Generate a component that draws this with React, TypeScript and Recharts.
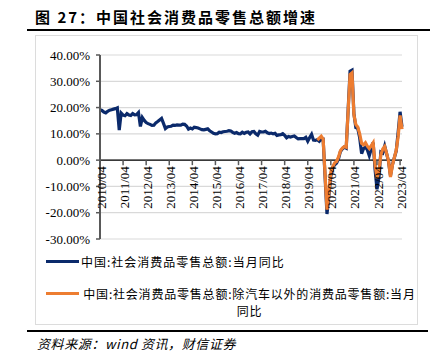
import React from 'react';
import { LineChart, Line, XAxis, YAxis, CartesianGrid, ReferenceLine } from 'recharts';

// 社会消费品零售总额 当月同比 (%)，2010/04 起
const total2010 = [19.2, 18.9, 18.3, 18.0, 18.6, 19.0, 19.2, 19.4, 19.6];
const total2011 = [19.9, 11.4, 17.9, 17.1, 16.9, 17.7, 17.2, 17.0, 17.7, 17.2, 17.3, 18.1];
const total2012 = [12.8, 16.2, 15.1, 14.3, 13.9, 13.6, 13.2, 13.3, 14.2, 14.7, 15.3, 15.9];
const total2013 = [14.0, 12.0, 12.6, 12.8, 12.9, 13.3, 13.2, 13.4, 13.3, 13.3, 13.7, 13.6];
const total2014 = [13.0, 11.8, 12.2, 11.9, 12.5, 12.4, 12.2, 11.9, 11.6, 11.5, 11.7, 11.9];
const total2015 = [11.2, 10.7, 10.2, 10.0, 10.1, 10.6, 10.5, 10.8, 10.9, 11.0, 11.2, 11.1];
const total2016 = [10.6, 10.2, 10.5, 10.1, 10.0, 10.6, 10.2, 10.6, 10.7, 10.0, 10.8, 10.9];
const total2017 = [10.0, 9.5, 10.9, 10.7, 10.7, 11.0, 10.4, 10.1, 10.3, 10.0, 10.2, 9.4];
const total2018 = [9.6, 9.7, 10.1, 9.4, 8.5, 9.0, 8.8, 9.0, 9.2, 8.6, 8.1, 8.2];
const total2019 = [8.2, 8.2, 8.7, 7.2, 8.6, 9.8, 7.6, 7.5, 7.8, 7.2, 8.0, 8.0];
const total2020 = [null, -20.5, -13.5, -6.0, -2.8, -1.8, -1.1, 0.5, 3.3, 4.3, 5.0, 4.6];
const total2021 = [null, 33.8, 34.2, 17.7, 12.4, 12.1, 8.5, 2.5, 4.4, 4.9, 3.9, 1.7];
const total2022 = [null, 6.7, -3.5, -11.1, -6.7, 3.1, 2.7, 5.4, 2.5, -0.5, -5.9, -1.8];
const total2023 = [null, 3.5, 10.6, 18.4, 12.7];

// 除汽车以外的消费品零售额 当月同比 (%)，2019/09 起
const exAuto2019 = [7.6, 8.4, 9.1, 8.0];
const exAuto2020 = [null, -18.8, -12.5, -4.5, -2.5, -1.0, -0.5, 1.2, 3.6, 4.6, 5.2, 4.9];
const exAuto2021 = [null, 32.6, 33.2, 17.2, 13.5, 12.6, 10.0, 6.4, 5.8, 6.6, 5.3, 4.4];
const exAuto2022 = [null, 6.6, -1.8, -6.8, -4.4, 2.0, 4.2, 5.2, 2.6, -0.4, -6.4, -2.0];
const exAuto2023 = [null, 3.8, 9.0, 17.0, 11.8];

const yTicks = [-30, -20, -10, 0, 10, 20, 30, 40];
const Y_MIN = -30;
const Y_MAX = 40;

const SERIES_TOTAL = '中国:社会消费品零售总额:当月同比';
const SERIES_EX = '中国:社会消费品零售总额:除汽车以外的消费品零售额:当月同比';

const totalValues = [
  ...total2010, ...total2011, ...total2012, ...total2013, ...total2014, ...total2015, ...total2016,
  ...total2017, ...total2018, ...total2019, ...total2020, ...total2021, ...total2022, ...total2023,
];
const exValues = [...exAuto2019, ...exAuto2020, ...exAuto2021, ...exAuto2022, ...exAuto2023];

// 月份标签 2010/04 ... 2023/05
const months: string[] = [];
for (let y = 2010; y <= 2023; y++) {
  for (let m = 1; m <= 12; m++) {
    if (y === 2010 && m < 4) continue;
    if (y === 2023 && m > 5) continue;
    months.push(`${y}/${String(m).padStart(2, '0')}`);
  }
}
const exStart = months.indexOf('2019/09');

const data = months.map((date, i) => ({
  date,
  total: totalValues[i],
  exAuto: i >= exStart ? exValues[i - exStart] : null,
}));

const W = 442;
const H = 354;
const PLOT_TOP = 55;
const PLOT_H = 184;
const ZERO_Y = PLOT_TOP + (PLOT_H * Y_MAX) / (Y_MAX - Y_MIN);
const AXIS_FONT = '"Liberation Serif", "Times New Roman", serif';
const CJK_FONT = '"Noto Sans CJK SC", "Noto Sans", sans-serif';

// x 轴标签画在 0 线上，竖排
const XTick = ({ x, payload }: any) => (
  <g>
    <line x1={x} y1={ZERO_Y} x2={x} y2={ZERO_Y + 5} stroke="#595959" strokeWidth={1.5} />
    <text
      transform={`translate(${x + 1},${ZERO_Y + 6}) rotate(-90)`}
      textAnchor="end"
      dy="0.35em"
      fontFamily={AXIS_FONT}
      fontSize={13}
      fill="#000"
    >
      {payload.value}
    </text>
  </g>
);

const legendRow: React.CSSProperties = {
  position: 'absolute',
  left: 46,
  display: 'flex',
  alignItems: 'flex-start',
  fontFamily: CJK_FONT,
  fontSize: 12,
  letterSpacing: 1,
  color: '#000',
  lineHeight: '17px',
  whiteSpace: 'nowrap',
};

// 第二个图例文字分两行，与原图一致
const exLabelLines = [SERIES_EX.slice(0, -2), SERIES_EX.slice(-2)];

export default function App() {
  return (
    <div style={{ position: 'absolute', left: 0, top: 0, width: W, height: H, background: '#fff' }}>
      <div
        style={{
          position: 'absolute', left: 35, top: 7, fontFamily: CJK_FONT, fontWeight: 700,
          fontSize: 15, letterSpacing: 2, lineHeight: '20px', color: '#000', whiteSpace: 'nowrap',
        }}
      >
        图 27：中国社会消费品零售总额增速
      </div>
      <div style={{ position: 'absolute', left: 27, top: 29, width: 403, height: 2, background: '#000' }} />
      <div style={{ position: 'absolute', left: 35, top: 35, width: 383, height: 290, border: '1px solid #dcdcdc', boxSizing: 'border-box' }} />

      <div style={{ position: 'absolute', left: 0, top: 0 }}>
        <LineChart width={W} height={H} data={data} margin={{ top: PLOT_TOP, right: 40, left: 40, bottom: 95 }}>
          <CartesianGrid vertical={false} stroke="#d9d9d9" strokeWidth={1.2} />
          <XAxis
            dataKey="date"
            interval={11}
            height={20}
            axisLine={false}
            tickLine={false}
            tick={<XTick />}
          />
          <YAxis
            width={60}
            domain={[Y_MIN, Y_MAX]}
            ticks={yTicks}
            tickFormatter={(v: number) => `${v.toFixed(2)}%`}
            tick={{ fontFamily: AXIS_FONT, fontSize: 13, fill: '#000' }}
            tickSize={4}
            tickMargin={6}
            axisLine={{ stroke: '#595959', strokeWidth: 2 }}
            tickLine={{ stroke: '#595959', strokeWidth: 1.5 }}
          />
          <ReferenceLine y={0} stroke="#000" strokeWidth={1.3} />
          <Line type="linear" dataKey="total" name={SERIES_TOTAL} stroke="#0b2a6b" strokeWidth={3.2} dot={false} connectNulls isAnimationActive={false} />
          <Line type="linear" dataKey="exAuto" name={SERIES_EX} stroke="#ed7d31" strokeWidth={3.2} dot={false} connectNulls isAnimationActive={false} />
        </LineChart>
      </div>

      <div style={{ ...legendRow, top: 253 }}>
        <div style={{ width: 33, height: 3, background: '#0b2a6b', marginTop: 7, flex: 'none' }} />
        <div style={{ marginLeft: 2 }}>{SERIES_TOTAL}</div>
      </div>
      <div style={{ ...legendRow, top: 285, width: 372 }}>
        <div style={{ width: 33, height: 3, background: '#ed7d31', marginTop: 7, flex: 'none' }} />
        <div style={{ marginLeft: 2, textAlign: 'center', flex: 1, letterSpacing: 0.8 }}>
          {exLabelLines[0]}
          <br />
          {exLabelLines[1]}
        </div>
      </div>

      <div style={{ position: 'absolute', left: 27, top: 330, width: 401, height: 2, background: '#000' }} />
      <div
        style={{
          position: 'absolute', left: 37, top: 335, fontFamily: CJK_FONT, fontStyle: 'italic',
          fontSize: 13, letterSpacing: 0.6, lineHeight: '18px', color: '#000', whiteSpace: 'nowrap',
        }}
      >
        资料来源：wind 资讯，财信证券
      </div>
    </div>
  );
}
